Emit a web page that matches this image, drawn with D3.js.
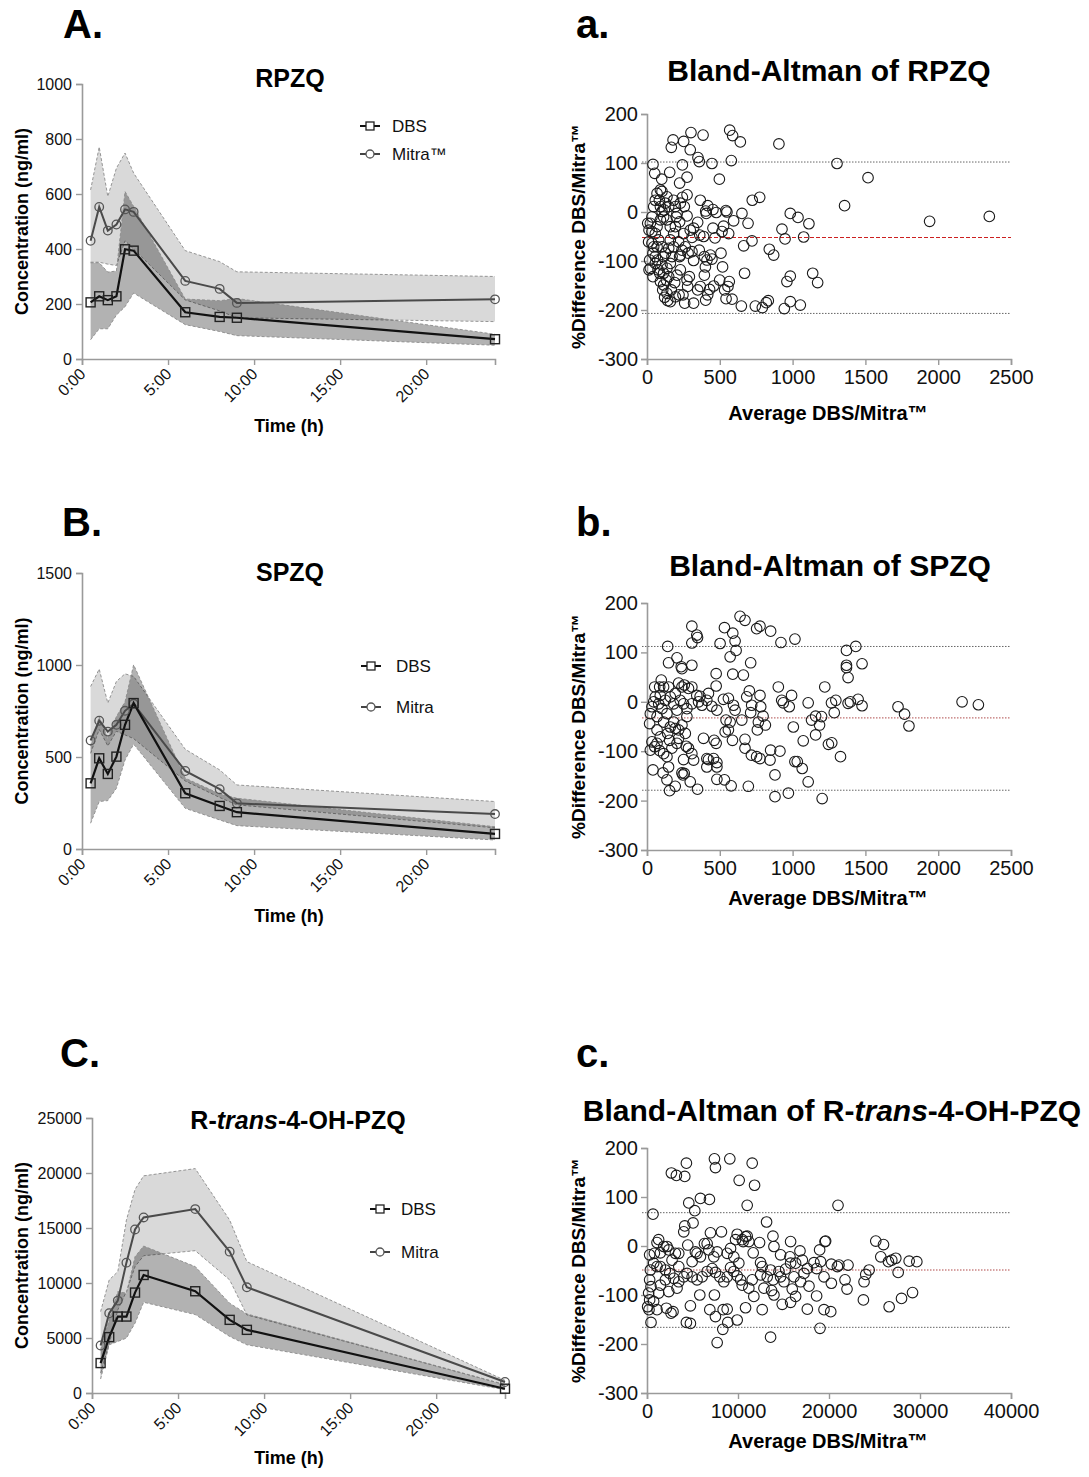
<!DOCTYPE html>
<html><head><meta charset="utf-8">
<script src="https://cdn.jsdelivr.net/npm/d3@7"></script>
<style>body{margin:0;background:#fff}svg{display:block;font-family:"Liberation Sans",Arial,sans-serif}</style>
</head><body>
<script>
// ---------- DATA ----------
const times = [0.5, 1, 1.5, 2, 2.5, 3, 6, 8, 9, 24];
const timeTicks = [0, 5, 10, 15, 20];
const timeTickLabels = ["0:00", "5:00", "10:00", "15:00", "20:00"];

const rpzqDBS      = [206, 228, 214, 228, 399, 394, 170, 153, 150, 72];
const rpzqDBSLo    = [70, 110, 110, 160, 190, 240, 125, 100, 85, 50];
const rpzqDBSHi    = [350, 350, 316, 320, 609, 555, 218, 212, 220, 90];
const rpzqMitra    = [430, 553, 467, 489, 544, 535, 284, 255, 204, 217];
const rpzqMitraLo  = [352, 352, 345, 340, 430, 400, 215, 175, 150, 136];
const rpzqMitraHi  = [615, 771, 591, 694, 749, 676, 394, 354, 317, 300];
const rpzqYTicks   = [0, 200, 400, 600, 800, 1000];

const spzqDBS      = [357, 493, 408, 502, 675, 793, 303, 234, 200, 82];
const spzqDBSLo    = [140, 258, 263, 330, 484, 570, 221, 158, 127, 49];
const spzqDBSHi    = [560, 720, 600, 720, 800, 1001, 385, 300, 276, 121];
const spzqMitra    = [590, 697, 638, 675, 751, 789, 424, 325, 248, 190];
const spzqMitraLo  = [520, 650, 560, 640, 620, 600, 370, 280, 240, 115];
const spzqMitraHi  = [883, 978, 793, 911, 952, 938, 542, 430, 348, 258];
const spzqYTicks   = [0, 500, 1000, 1500];

const rtDBS        = [2720, 5080, 6950, 6950, 9130, 10730, 9250, 6650, 5740, 390];
const rtDBSLo      = [1270, 4380, 4690, 4990, 6350, 8250, 7130, 5140, 4380, 300];
const rtDBSHi      = [3930, 6650, 9220, 9070, 12390, 13360, 11490, 8160, 7190, 760];
const rtMitra      = [4320, 7250, 8400, 11850, 14870, 15960, 16720, 12850, 9610, 1000];
const rtMitraLo    = [1810, 4470, 7560, 9220, 11490, 12480, 12940, 10280, 7100, 760];
const rtMitraHi    = [7400, 10280, 11030, 15720, 18500, 19740, 20400, 15720, 11940, 1150];
const rtYTicks     = [0, 5000, 10000, 15000, 20000, 25000];

const baYTicks = [-300, -200, -100, 0, 100, 200];
const baXTicksSmall = [0, 500, 1000, 1500, 2000, 2500];
const baXTicksLarge = [0, 10000, 20000, 30000, 40000];

// limits: [lower LoA, mean bias, upper LoA]
const baRPZQLimits = [-207, -52, 102];
const baSPZQLimits = [-179, -32.5, 112];
const baRtLimits   = [-166, -49, 68];

const baRPZQ = [[41,97],[53,79],[179,147],[167,132],[252,144],[302,162],[385,157],[297,127],[350,111],[359,103],[243,96],[446,99],[156,81],[101,67],[224,59],[275,71],[497,67],[568,167],[588,156],[641,143],[579,105],[906,139],[1305,99],[1518,70],[1357,13],[723,24],[774,30],[984,-3],[1037,-11],[1112,-24],[1941,-19],[2351,-9],[927,-35],[948,-55],[1076,-51],[652,-3],[595,-18],[694,-23],[721,-59],[664,-69],[840,-76],[870,-88],[670,-125],[961,-142],[984,-131],[1138,-125],[1172,-144],[648,-192],[744,-192],[792,-195],[819,-185],[833,-181],[943,-197],[984,-183],[1053,-190],[549,0],[542,3],[561,-44],[515,-40],[526,-29],[508,-84],[519,-112],[499,-139],[533,-159],[556,-152],[565,-142],[584,-178],[543,-177],[458,-151],[430,-158],[417,-169],[403,-180],[348,-159],[366,-152],[401,-112],[412,-98],[394,-91],[435,-88],[446,-96],[394,-129],[320,-186],[259,-186],[291,-132],[275,-139],[279,-152],[320,-99],[309,-81],[282,-84],[359,-78],[389,-50],[362,-47],[320,-33],[348,-21],[407,-3],[417,13],[366,24],[403,2],[453,5],[476,-1],[453,-33],[467,-53],[309,-52],[297,-37],[275,-8],[256,11],[243,30],[275,35],[229,18],[206,-3],[195,-30],[217,-61],[224,-91],[229,-118],[206,-129],[190,-144],[220,-169],[247,-169],[195,-173],[137,-166],[121,-174],[142,-181],[160,-183],[108,-159],[92,-142],[87,-125],[76,-118],[103,-108],[73,-98],[57,-105],[23,-115],[14,-118],[41,-132],[57,-91],[41,-84],[46,-71],[34,-64],[14,-37],[5,-23],[23,-23],[34,-10],[46,11],[57,24],[69,38],[92,45],[103,42],[85,24],[92,11],[103,1],[114,-10],[92,-16],[69,-30],[57,-44],[80,-57],[103,-71],[126,-84],[149,-74],[172,-91],[160,-105],[137,-115],[114,-125],[133,-139],[160,-57],[183,-44],[160,-30],[137,-16],[119,4],[149,11],[183,24],[137,31],[126,18],[195,11],[201,-10],[224,-20],[252,-44],[263,-71],[240,-78],[183,-71],[149,-132],[114,-149],[167,-159],[229,-88],[114,-91],[69,-71],[34,-40],[11,-61],[18,-98]];

const baSPZQ = [[639,173],[673,165],[308,153],[532,150],[753,148],[776,153],[849,143],[342,135],[347,130],[308,119],[502,118],[589,139],[605,123],[920,120],[1016,127],[142,112],[612,104],[571,91],[206,89],[148,79],[308,74],[712,79],[235,71],[240,67],[1370,104],[1434,112],[1370,74],[1370,69],[1381,49],[1477,77],[475,57],[475,32],[589,56],[662,54],[902,30],[1221,30],[703,22],[776,13],[993,13],[925,3],[936,-2],[977,-10],[1107,-2],[1267,-2],[1297,3],[1286,-22],[1381,-3],[1397,0],[1450,5],[1477,-8],[1724,-10],[1769,-25],[1799,-49],[2164,0],[2276,-6],[1005,-51],[1073,-79],[1158,-67],[1185,-47],[1130,-37],[1158,-29],[1199,-30],[1246,-86],[1269,-83],[1329,-111],[1032,-121],[1016,-121],[1066,-135],[1107,-162],[879,-148],[879,-192],[971,-185],[1203,-196],[913,-100],[849,-98],[845,-118],[776,-115],[753,-111],[717,-108],[696,-171],[578,-170],[532,-158],[480,-157],[480,-132],[480,-123],[457,-115],[461,-78],[475,-84],[388,-74],[411,-115],[411,-132],[422,-117],[347,-177],[297,-162],[256,-145],[247,-148],[240,-144],[320,-118],[308,-105],[285,-94],[269,-90],[251,-117],[194,-171],[155,-180],[137,-158],[110,-144],[148,-132],[137,-111],[114,-105],[87,-99],[41,-138],[23,-98],[53,-91],[34,-81],[69,-84],[91,-71],[69,-57],[18,-44],[23,-24],[34,-10],[46,0],[57,10],[53,30],[87,30],[98,44],[114,30],[91,13],[80,-4],[103,-14],[126,3],[148,30],[160,10],[183,-4],[194,17],[217,38],[240,30],[256,34],[285,27],[308,30],[342,13],[308,-4],[274,-14],[251,-4],[228,3],[206,-17],[183,-41],[160,-51],[194,-54],[217,-57],[142,-64],[114,-41],[137,-24],[69,-30],[354,0],[377,-7],[411,3],[445,-9],[480,-17],[525,5],[559,7],[594,-7],[605,-17],[543,-37],[571,-41],[559,-57],[537,-61],[587,-78],[651,-37],[685,10],[719,-7],[712,-22],[781,-10],[797,-29],[813,-47],[765,-41],[758,-57],[673,-76],[673,-94],[274,-30],[240,-47],[263,-64],[206,-84],[171,-94],[365,11],[422,17],[217,-74],[155,-78]];

const baRt = [[660,65],[440,-156],[2680,149],[3230,144],[4150,142],[4330,169],[7410,178],[7520,160],[9100,178],[11560,169],[10130,134],[11820,124],[5870,97],[6860,95],[4590,88],[5250,72],[11010,83],[20990,83],[5060,47],[4150,41],[4040,29],[13140,49],[8180,29],[6970,27],[9910,24],[11010,20],[13840,20],[15780,9],[9730,13],[10460,13],[6310,5],[6610,5],[4480,2],[1280,13],[1100,7],[25140,10],[25990,3],[19630,10],[19560,9],[18970,-8],[12370,7],[9180,-5],[8810,-15],[7710,-12],[5500,-15],[1840,-1],[2200,-1],[2390,-8],[3120,-15],[3490,-15],[1470,-14],[810,-15],[290,-18],[13950,-1],[14680,-18],[15710,-22],[16810,-10],[17070,-29],[18350,-34],[19080,-32],[25690,-22],[26530,-32],[26900,-29],[27340,-25],[28810,-31],[29650,-32],[21100,-39],[20920,-42],[20260,-37],[22090,-39],[27600,-54],[24410,-49],[24040,-58],[23850,-73],[21760,-69],[21980,-88],[20260,-76],[19450,-63],[18640,-46],[17620,-46],[17250,-56],[16330,-35],[15780,-35],[15230,-47],[14500,-52],[13580,-49],[12660,-42],[12480,-34],[13210,-63],[13870,-69],[14680,-63],[15050,-73],[16150,-63],[16880,-73],[17800,-82],[15960,-88],[16330,-103],[14860,-119],[15780,-115],[17620,-129],[18640,-102],[19450,-130],[20190,-134],[19010,-168],[13950,-100],[13690,-91],[12850,-86],[12660,-130],[13580,-186],[10830,-126],[9910,-151],[10460,-80],[10280,-69],[9910,-61],[9540,-52],[9180,-44],[8810,-63],[8440,-73],[8000,-63],[7520,-54],[7160,-46],[6610,-52],[6060,-63],[5500,-69],[4960,-63],[4400,-56],[4040,-63],[3490,-73],[2940,-66],[2500,-56],[2020,-49],[1470,-42],[1100,-42],[730,-35],[370,-49],[290,-69],[440,-83],[180,-96],[290,-110],[70,-124],[220,-130],[730,-113],[1100,-130],[1280,-96],[1470,-80],[2020,-69],[2390,-93],[2640,-137],[2860,-134],[2130,-127],[3300,-86],[4330,-156],[4770,-158],[4770,-122],[5800,-100],[6900,-130],[7410,-100],[7520,-144],[7710,-197],[8330,-170],[8370,-130],[8810,-129],[8880,-156],[11190,9],[10830,19],[10570,9],[10090,-35],[9540,-22],[7340,-22],[6790,-8],[5870,-22],[5320,-12],[4960,-32],[3490,-42],[2750,-29],[27970,-107],[29180,-95],[26610,-124],[23780,-110],[11670,-14],[11560,-69],[11190,-86],[11740,-103],[12480,-59]];

// ---------- DRAW ----------
const svg = d3.select("body").append("svg").attr("width", 1089).attr("height", 1477);
const AX = "#9a9a9a";
const plain = d => String(d);

function styleAxis(g, fs) {
  g.select(".domain").attr("stroke", AX).attr("stroke-width", 1.6);
  g.selectAll(".tick line").attr("stroke", AX).attr("stroke-width", 1.4);
  g.selectAll(".tick text").attr("fill", "#111").style("font-size", fs + "px")
    .style("font-family", '"Liberation Sans",Arial,sans-serif');
}

function titleText(x, y, parts, size) {
  const t = svg.append("text").attr("x", x).attr("y", y).attr("text-anchor", "middle")
    .style("font-size", size + "px").style("font-weight", "bold").attr("fill", "#000");
  parts.forEach(p => t.append("tspan").text(p.t).style("font-style", p.i ? "italic" : "normal"));
}

function drawPK(c) {
  const x = d3.scaleLinear().domain([0, 24]).range([c.x0, c.x1]);
  const y = d3.scaleLinear().domain([0, c.ymax]).range([c.yb, c.yt]);
  const idx = d3.range(times.length);
  const area = (lo, hi) => d3.area().x(i => x(times[i])).y0(i => y(lo[i])).y1(i => y(hi[i]));
  const band = (lo, hi, op) => {
    svg.append("path").attr("d", area(lo, hi)(idx)).attr("fill", "#000").attr("fill-opacity", op);
    [lo, hi].forEach(arr => svg.append("path")
      .attr("d", d3.line().x(i => x(times[i])).y(i => y(arr[i]))(idx))
      .attr("fill", "none").attr("stroke", "#8a8a8a").attr("stroke-width", 0.9).attr("stroke-dasharray", "3,2"));
  };
  band(c.mLo, c.mHi, 0.15);
  band(c.dLo, c.dHi, 0.30);

  const gy = svg.append("g").attr("transform", `translate(${c.x0},0)`)
    .call(d3.axisLeft(y).tickValues(c.yticks).tickSize(6).tickPadding(4).tickFormat(plain));
  styleAxis(gy, 16);
  const gx = svg.append("g").attr("transform", `translate(0,${c.yb})`)
    .call(d3.axisBottom(x).tickValues(timeTicks).tickSize(6).tickFormat((d, i) => timeTickLabels[i]));
  styleAxis(gx, 16);
  gx.selectAll(".tick text").attr("text-anchor", "end").attr("dy", null).attr("y", null)
    .attr("transform", "translate(4,16) rotate(-45)");

  const line = arr => d3.line().x(i => x(times[i])).y(i => y(arr[i]))(idx);
  svg.append("path").attr("d", line(c.m)).attr("fill", "none").attr("stroke", "#4a4a4a").attr("stroke-width", 2);
  svg.append("path").attr("d", line(c.d)).attr("fill", "none").attr("stroke", "#111").attr("stroke-width", 2.2);
  svg.append("g").selectAll("circle").data(idx).join("circle")
    .attr("cx", i => x(times[i])).attr("cy", i => y(c.m[i])).attr("r", 4.3)
    .attr("fill", "none").attr("stroke", "#555").attr("stroke-width", 1.3);
  svg.append("g").selectAll("rect").data(idx).join("rect")
    .attr("x", i => x(times[i]) - 4.5).attr("y", i => y(c.d[i]) - 4.5).attr("width", 9).attr("height", 9)
    .attr("fill", "none").attr("stroke", "#222").attr("stroke-width", 1.4);

  // legend
  const L = c.leg;
  svg.append("line").attr("x1", L.x).attr("x2", L.x + 20).attr("y1", L.y1).attr("y2", L.y1).attr("stroke", "#111").attr("stroke-width", 2);
  svg.append("rect").attr("x", L.x + 6).attr("y", L.y1 - 4).attr("width", 8).attr("height", 8).attr("fill", "#fff").attr("stroke", "#222").attr("stroke-width", 1.3);
  svg.append("text").attr("x", L.tx).attr("y", L.y1 + 6).text("DBS").style("font-size", "17px").attr("fill", "#111");
  svg.append("line").attr("x1", L.x).attr("x2", L.x + 20).attr("y1", L.y2).attr("y2", L.y2).attr("stroke", "#444").attr("stroke-width", 2);
  svg.append("circle").attr("cx", L.x + 10).attr("cy", L.y2).attr("r", 4).attr("fill", "#fff").attr("stroke", "#555").attr("stroke-width", 1.3);
  svg.append("text").attr("x", L.tx).attr("y", L.y2 + 6).text(c.mitraName).style("font-size", "17px").attr("fill", "#111");

  titleText(c.titleX, c.titleY, c.title, 25);
  svg.append("text").attr("transform", `translate(28,${(c.yt + c.yb) / 2}) rotate(-90)`).attr("text-anchor", "middle")
    .text("Concentration (ng/ml)").style("font-size", "18px").style("font-weight", "bold");
  svg.append("text").attr("x", 289).attr("y", c.xlabY).attr("text-anchor", "middle")
    .text("Time (h)").style("font-size", "18px").style("font-weight", "bold");
}

function drawBA(c) {
  const x = d3.scaleLinear().domain([0, c.xmax]).range([647, 1011]);
  const y = d3.scaleLinear().domain([-300, 200]).range([c.yb, c.yt]);
  // reference lines
  [c.lim[0], c.lim[2]].forEach(v => svg.append("line").attr("x1", x(0) - 5).attr("x2", x(c.xmax))
    .attr("y1", y(v)).attr("y2", y(v))
    .attr("stroke", "#666").attr("stroke-width", 1).attr("stroke-dasharray", "1.5,1.5"));
  svg.append("line").attr("x1", x(0) - 5).attr("x2", x(c.xmax)).attr("y1", y(c.lim[1])).attr("y2", y(c.lim[1]))
    .attr("stroke", c.meanColor).attr("stroke-width", 1.2).attr("stroke-dasharray", c.meanDash);

  const gy = svg.append("g").attr("transform", `translate(647,0)`)
    .call(d3.axisLeft(y).tickValues(baYTicks).tickSize(6).tickPadding(3).tickFormat(plain));
  styleAxis(gy, 20);
  const gx = svg.append("g").attr("transform", `translate(0,${c.yb})`)
    .call(d3.axisBottom(x).tickValues(c.xticks).tickSize(6).tickPadding(5).tickFormat(plain));
  styleAxis(gx, 20);

  svg.append("g").selectAll("circle").data(c.pts).join("circle")
    .attr("cx", d => x(d[0])).attr("cy", d => y(d[1])).attr("r", 5.3)
    .attr("fill", "none").attr("stroke", "#1a1a1a").attr("stroke-width", 1.1);

  titleText(c.titleX, c.titleY, c.title, 30);
  svg.append("text").attr("transform", `translate(585,${(c.yt + c.yb) / 2}) rotate(-90)`).attr("text-anchor", "middle")
    .text("%Difference DBS/Mitra™").style("font-size", "19px").style("font-weight", "bold");
  svg.append("text").attr("x", 828).attr("y", c.xlabY).attr("text-anchor", "middle")
    .text("Average DBS/Mitra™").style("font-size", "20px").style("font-weight", "bold");
}

function panelLetter(x, y, t) {
  svg.append("text").attr("x", x).attr("y", y).text(t).style("font-size", "40px").style("font-weight", "bold");
}

drawPK({x0: 82, x1: 495, yt: 84, yb: 359, ymax: 1000, yticks: rpzqYTicks,
  d: rpzqDBS, dLo: rpzqDBSLo, dHi: rpzqDBSHi, m: rpzqMitra, mLo: rpzqMitraLo, mHi: rpzqMitraHi,
  leg: {x: 360, tx: 392, y1: 126, y2: 154}, mitraName: "Mitra™",
  title: [{t: "RPZQ"}], titleX: 290, titleY: 87, xlabY: 432});
drawPK({x0: 82, x1: 495, yt: 573, yb: 849, ymax: 1500, yticks: spzqYTicks,
  d: spzqDBS, dLo: spzqDBSLo, dHi: spzqDBSHi, m: spzqMitra, mLo: spzqMitraLo, mHi: spzqMitraHi,
  leg: {x: 361, tx: 396, y1: 666, y2: 707}, mitraName: "Mitra",
  title: [{t: "SPZQ"}], titleX: 290, titleY: 581, xlabY: 922});
drawPK({x0: 92, x1: 505, yt: 1118, yb: 1393, ymax: 25000, yticks: rtYTicks,
  d: rtDBS, dLo: rtDBSLo, dHi: rtDBSHi, m: rtMitra, mLo: rtMitraLo, mHi: rtMitraHi,
  leg: {x: 370, tx: 401, y1: 1209, y2: 1252}, mitraName: "Mitra",
  title: [{t: "R-"}, {t: "trans", i: true}, {t: "-4-OH-PZQ"}], titleX: 298, titleY: 1129, xlabY: 1464});

drawBA({xmax: 2500, xticks: baXTicksSmall, yt: 114, yb: 359, pts: baRPZQ, lim: baRPZQLimits,
  meanColor: "#cc2020", meanDash: "4,2", title: [{t: "Bland-Altman of RPZQ"}], titleX: 829, titleY: 81, xlabY: 420});
drawBA({xmax: 2500, xticks: baXTicksSmall, yt: 603, yb: 850, pts: baSPZQ, lim: baSPZQLimits,
  meanColor: "#c07070", meanDash: "1.5,1.5", title: [{t: "Bland-Altman of SPZQ"}], titleX: 830, titleY: 576, xlabY: 905});
drawBA({xmax: 40000, xticks: baXTicksLarge, yt: 1148, yb: 1393, pts: baRt, lim: baRtLimits,
  meanColor: "#b04848", meanDash: "1.5,1.5", title: [{t: "Bland-Altman of R-"}, {t: "trans", i: true}, {t: "-4-OH-PZQ"}], titleX: 832, titleY: 1121, xlabY: 1448});

panelLetter(63, 38, "A.");
panelLetter(576, 38, "a.");
panelLetter(62, 536, "B.");
panelLetter(576, 536, "b.");
panelLetter(60, 1067, "C.");
panelLetter(576, 1067, "c.");
</script>
</body></html>
